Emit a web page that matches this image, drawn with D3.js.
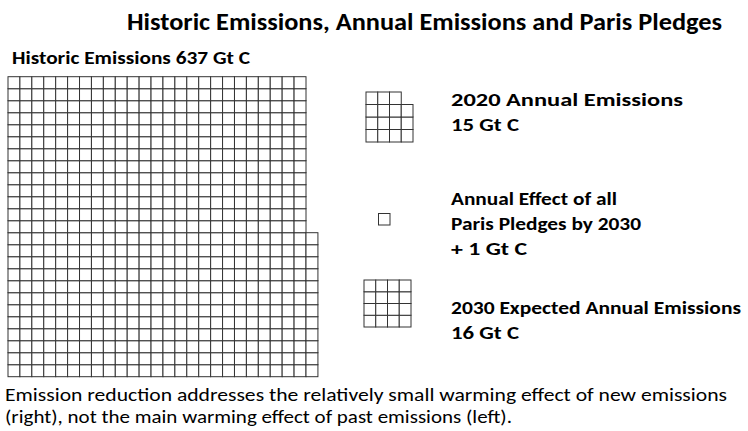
<!DOCTYPE html>
<html>
<head>
<meta charset="utf-8">
<script src="https://cdn.jsdelivr.net/npm/d3@7"></script>
<style>
  body { margin: 0; background: #fff; }
  text { font-family: Calibri, Carlito, Lato, "Noto Sans", sans-serif; fill: #000; }
</style>
</head>
<body>
<script>
// values, one square = 1 Gt C
var blockNames = ["Historic Emissions", "2020 Annual Emissions", "Annual Effect of all Paris Pledges by 2030", "2030 Expected Annual Emissions"];
var blockValues = [637, 15, 1, 16];
var blockRows = [25, 4, 1, 4]; // squares stacked per column

// label lines next to each block
var labelLines = [
  ["Historic Emissions 637 Gt C"],
  ["2020 Annual Emissions", "15 Gt C"],
  ["Annual Effect of all", "Paris Pledges by 2030", "+ 1 Gt C"],
  ["2030 Expected Annual Emissions", "16 Gt C"]
];

var titleText = "Historic Emissions, Annual Emissions and Paris Pledges";
var footerLines = [
  "Emission reduction addresses the relatively small warming effect of new emissions",
  "(right), not the main warming effect of past emissions (left)."
];

setChart();

function setChart(){

  var width = 748,
    height = 431;

  var svg = d3.select("body")
    .append("svg")
    .attr("width", width)
    .attr("height", height);

  // layout of each block: bottom-left corner and square size
  var layout = [
    {x: 8, y: 376.7, w: 11.92, h: 12},
    {x: 366, y: 142, w: 11.75, h: 12.5},
    {x: 378.5, y: 225, w: 11.5, h: 11.5},
    {x: 364, y: 327, w: 11.75, h: 11.75}
  ];

  blockValues.forEach(function(v, i){
    var L = layout[i],
      rows = blockRows[i],
      cols = Math.ceil(v / rows);

    var x = d3.scaleLinear().domain([0, cols]).range([L.x, L.x + cols * L.w]);
    var y = d3.scaleLinear().domain([0, rows]).range([L.y, L.y - rows * L.h]);

    // fill column by column, from the bottom up
    var cells = d3.range(v).map(function(k){
      return {c: Math.floor(k / rows), r: k % rows};
    });

    svg.append("g")
      .attr("class", "block")
      .selectAll("rect")
      .data(cells)
      .enter()
      .append("rect")
      .attr("x", function(d){ return x(d.c); })
      .attr("y", function(d){ return y(d.r + 1); })
      .attr("width", x(1) - x(0))
      .attr("height", y(0) - y(1))
      .attr("fill", "#fff")
      .attr("stroke", "#333")
      .attr("stroke-width", 1);
  });

  // title
  svg.append("text")
    .attr("x", 127)
    .attr("y", 30)
    .attr("font-size", 25)
    .attr("font-weight", "bold")
    .attr("textLength", 595)
    .attr("lengthAdjust", "spacingAndGlyphs")
    .text(titleText);

  // block labels
  var labelPos = [
    {x: 12, y: 64, size: 17, len: [238]},
    {x: 451, y: 106, size: 18.5, len: [232, 68]},
    {x: 451, y: 205, size: 18.5, len: [166, 190, 76]},
    {x: 451, y: 314, size: 18.5, len: [290, 68]}
  ];

  labelLines.forEach(function(lines, i){
    var P = labelPos[i];
    svg.append("g")
      .selectAll("text")
      .data(lines)
      .enter()
      .append("text")
      .attr("x", P.x)
      .attr("y", function(d, j){ return P.y + j * 25; })
      .attr("font-size", P.size)
      .attr("font-weight", "bold")
      .attr("textLength", function(d, j){ return P.len[j]; })
      .attr("lengthAdjust", "spacingAndGlyphs")
      .text(function(d){ return d; });
  });

  // footer note
  var footLen = [722, 507];
  svg.append("g")
    .selectAll("text")
    .data(footerLines)
    .enter()
    .append("text")
    .attr("x", 5)
    .attr("y", function(d, j){ return 401 + j * 22; })
    .attr("font-size", 18.5)
    .attr("textLength", function(d, j){ return footLen[j]; })
    .attr("lengthAdjust", "spacingAndGlyphs")
    .text(function(d){ return d; });
}
</script>
</body>
</html>
